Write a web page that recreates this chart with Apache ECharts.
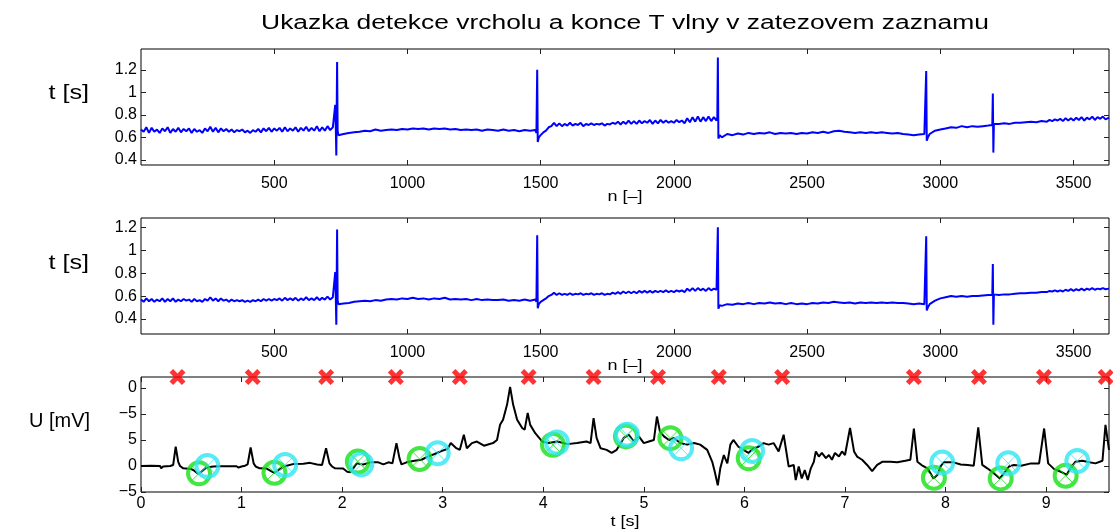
<!DOCTYPE html>
<html><head><meta charset="utf-8">
<script src="https://cdn.jsdelivr.net/npm/echarts@6/dist/echarts.min.js"></script>
<style>html,body{margin:0;padding:0;background:#fff}#c{width:1113px;height:532px}</style>
</head><body><div id="c"></div>
<script>
const titleText = 'Ukazka detekce vrcholu a konce T vlny v zatezovem zaznamu';
const nTicks = [500, 1000, 1500, 2000, 2500, 3000, 3500];
const tTicks = [0.4, 0.6, 0.8, 1, 1.2];
const sTicks = [0, 1, 2, 3, 4, 5, 6, 7, 8, 9];
const uTickValues = [-5, 0, 5, 10, 15];
const uTickLabels = ['−5', '0', '5', '−5', '0'];

// panel 1: [n, t]
const trace1 = [
[0,.67],[10,.65],[20,.69],[30,.64],[40,.685],[50,.65],[60,.67],[70,.64],[80,.68],[90,.655],[100,.69],[110,.64],[120,.675],[130,.65],[140,.685],[150,.645],[160,.675],[170,.655],[180,.68],[190,.64],
[200,.675],[210,.65],[220,.665],[230,.64],[240,.68],[250,.655],[260,.695],[270,.65],[280,.685],[290,.645],[300,.68],[310,.655],[320,.675],[330,.65],[340,.67],[350,.645],[360,.665],[370,.655],[380,.67],[390,.645],
[400,.66],[410,.64],[420,.665],[430,.65],[440,.675],[450,.645],[460,.68],[470,.655],[480,.685],[490,.65],[500,.68],[510,.66],[520,.685],[530,.65],[540,.69],[550,.655],[560,.68],[570,.66],[580,.69],[590,.65],
[600,.685],[610,.66],[620,.695],[630,.655],[640,.685],[650,.66],[660,.70],[670,.655],[680,.69],[690,.66],[700,.70],[710,.665],[720,.69],
[726,0.68],[729,0.89],[731,0.70],[733,0.44],[736,1.27],[738,0.66],[741,0.62],
[760,0.63],[780,0.64],[800,0.645],[820,0.65],[840,0.66],[860,0.655],[880,0.67],[900,0.66],[920,0.665],[940,0.67],
[960,0.665],[980,0.675],[1000,0.67],[1020,0.68],[1040,0.675],[1060,0.68],[1080,0.67],[1100,0.68],[1120,0.675],[1140,0.68],
[1160,0.67],[1180,0.675],[1200,0.665],[1220,0.67],[1240,0.665],[1260,0.67],[1280,0.66],[1300,0.67],[1320,0.665],[1340,0.66],
[1360,0.67],[1380,0.66],[1400,0.665],[1420,0.655],[1440,0.665],[1460,0.66],[1480,0.665],
[1484,0.64],[1487,1.20],[1489,0.56],[1493,0.60],
[1500,.62],[1510,.645],[1520,.66],[1530,.69],[1540,.70],[1550,.73],[1560,.70],[1570,.725],[1580,.70],[1590,.72],[1600,.705],[1610,.73],[1620,.705],[1630,.72],[1640,.71],[1650,.73],[1660,.70],[1670,.72],[1680,.71],[1690,.725],
[1700,.71],[1710,.72],[1720,.715],[1730,.725],[1740,.705],[1750,.72],[1760,.715],[1770,.73],[1780,.72],[1790,.74],[1800,.715],[1810,.74],[1820,.72],[1830,.75],[1840,.72],[1850,.745],[1860,.72],[1870,.75],[1880,.725],[1890,.745],
[1900,.73],[1910,.755],[1920,.72],[1930,.75],[1940,.725],[1950,.755],[1960,.73],[1970,.75],[1980,.73],[1990,.745],[2000,.73],[2010,.755],[2020,.735],[2030,.75],[2040,.725],[2050,.77],[2060,.735],[2070,.78],[2080,.74],[2090,.785],
[2100,.74],[2110,.78],[2120,.745],[2130,.785],[2140,.745],[2150,.78],[2160,.75],
[2163,0.78],[2165,1.31],[2167,0.59],[2172,0.62],
[2180,0.60],[2200,0.63],[2220,0.62],[2240,0.635],[2260,0.625],[2280,0.64],[2300,0.63],[2320,0.64],[2340,0.635],[2360,0.645],
[2380,0.63],[2400,0.64],[2420,0.635],[2440,0.64],[2460,0.63],[2480,0.64],[2500,0.635],[2520,0.645],[2540,0.64],[2560,0.65],
[2580,0.64],[2600,0.655],[2620,0.66],[2640,0.65],[2660,0.645],[2680,0.64],[2700,0.645],[2720,0.64],[2740,0.645],[2760,0.64],
[2780,0.645],[2800,0.64],[2820,0.635],[2840,0.64],[2860,0.63],[2880,0.625],[2900,0.62],[2920,0.625],[2940,0.63],
[2944,0.62],[2947,1.19],[2949,0.57],[2953,0.60],
[2960,0.63],[2980,0.66],[3000,0.67],[3020,0.68],[3040,0.69],[3060,0.685],[3080,0.70],[3100,0.69],[3120,0.70],[3140,0.695],
[3160,0.70],[3180,0.705],[3195,0.71],
[3197,0.99],[3199,0.465],[3201,0.72],
[3220,0.72],[3240,0.725],[3260,0.72],[3280,0.73],[3300,0.73],[3320,0.735],[3340,0.74],[3360,0.735],[3380,0.745],
[3400,.74],[3410,.755],[3420,.745],[3430,.76],[3440,.75],[3450,.765],[3460,.745],[3470,.77],[3480,.75],[3490,.77],[3500,.75],[3510,.775],[3520,.755],[3530,.78],[3540,.75],[3550,.775],[3560,.76],[3570,.785],[3580,.755],[3590,.78],
[3600,.765],[3610,.785],[3620,.76],[3633,.775]
];

// panel 2: [n, t]
const trace2 = [
[0,.57],[10,.55],[20,.58],[30,.555],[40,.575],[50,.55],[60,.57],[70,.555],[80,.58],[90,.55],[100,.575],[110,.555],[120,.58],[130,.55],[140,.57],[150,.555],[160,.575],[170,.56],[180,.57],[190,.55],
[200,.575],[210,.555],[220,.565],[230,.55],[240,.575],[250,.56],[260,.59],[270,.56],[280,.58],[290,.555],[300,.58],[310,.56],[320,.57],[330,.55],[340,.57],[350,.555],[360,.565],[370,.555],[380,.565],[390,.55],
[400,.56],[410,.55],[420,.565],[430,.555],[440,.57],[450,.555],[460,.575],[470,.56],[480,.575],[490,.56],[500,.575],[510,.565],[520,.58],[530,.56],[540,.585],[550,.565],[560,.58],[570,.565],[580,.585],[590,.56],
[600,.58],[610,.565],[620,.59],[630,.565],[640,.58],[650,.565],[660,.59],[670,.565],[680,.585],[690,.57],[700,.595],[710,.57],[720,.59],
[726,0.59],[729,0.81],[731,0.60],[733,0.35],[736,1.18],[738,0.56],[741,0.53],
[760,0.535],[780,0.54],[800,0.55],[820,0.555],[840,0.56],[860,0.555],[880,0.565],[900,0.56],[920,0.57],[940,0.575],
[960,0.57],[980,0.58],[1000,0.575],[1020,0.585],[1040,0.575],[1060,0.58],[1080,0.57],[1100,0.58],[1120,0.575],[1140,0.585],
[1160,0.57],[1180,0.575],[1200,0.57],[1220,0.575],[1240,0.565],[1260,0.575],[1280,0.565],[1300,0.57],[1320,0.565],[1340,0.565],
[1360,0.57],[1380,0.56],[1400,0.565],[1420,0.56],[1440,0.57],[1460,0.56],[1480,0.57],
[1484,0.55],[1487,1.13],[1489,0.495],[1493,0.53],
[1500,.55],[1510,.565],[1520,.58],[1530,.6],[1540,.61],[1550,.63],[1560,.61],[1570,.625],[1580,.61],[1590,.62],[1600,.61],[1610,.625],[1620,.61],[1630,.62],[1640,.615],[1650,.625],[1660,.61],[1670,.62],[1680,.615],[1690,.625],
[1700,.61],[1710,.62],[1720,.615],[1730,.625],[1740,.61],[1750,.62],[1760,.615],[1770,.63],[1780,.62],[1790,.635],[1800,.62],[1810,.64],[1820,.625],[1830,.64],[1840,.625],[1850,.64],[1860,.625],[1870,.645],[1880,.63],[1890,.645],
[1900,.63],[1910,.645],[1920,.63],[1930,.645],[1940,.635],[1950,.645],[1960,.635],[1970,.65],[1980,.635],[1990,.645],[2000,.635],[2010,.65],[2020,.64],[2030,.65],[2040,.635],[2050,.665],[2060,.645],[2070,.67],[2080,.645],[2090,.67],
[2100,.65],[2110,.665],[2120,.645],[2130,.67],[2140,.65],[2150,.665],[2160,.655],
[2163,0.67],[2165,1.20],[2167,0.49],[2172,0.52],
[2180,0.515],[2200,0.53],[2220,0.525],[2240,0.535],[2260,0.53],[2280,0.54],[2300,0.53],[2320,0.54],[2340,0.535],[2360,0.545],
[2380,0.535],[2400,0.54],[2420,0.53],[2440,0.54],[2460,0.53],[2480,0.535],[2500,0.53],[2520,0.54],[2540,0.535],[2560,0.545],
[2580,0.54],[2600,0.55],[2620,0.545],[2640,0.54],[2660,0.545],[2680,0.535],[2700,0.545],[2720,0.54],[2740,0.545],[2760,0.54],
[2780,0.545],[2800,0.54],[2820,0.545],[2840,0.54],[2860,0.54],[2880,0.535],[2900,0.53],[2920,0.535],[2940,0.53],
[2944,0.52],[2947,1.12],[2949,0.475],[2953,0.50],
[2960,0.53],[2980,0.56],[3000,0.58],[3020,0.59],[3040,0.60],[3060,0.595],[3080,0.60],[3100,0.595],[3120,0.60],[3140,0.60],
[3160,0.605],[3180,0.61],[3195,0.61],
[3197,0.88],[3199,0.35],[3201,0.615],
[3220,0.61],[3240,0.615],[3260,0.615],[3280,0.62],[3300,0.625],[3320,0.625],[3340,0.63],[3360,0.63],[3380,0.635],
[3400,.635],[3410,.645],[3420,.64],[3430,.65],[3440,.64],[3450,.65],[3460,.64],[3470,.655],[3480,.645],[3490,.66],[3500,.645],[3510,.66],[3520,.65],[3530,.665],[3540,.65],[3550,.665],[3560,.655],[3570,.67],[3580,.655],[3590,.665],
[3600,.66],[3610,.67],[3620,.66],[3633,.665]
];

// panel 3: ECG [t s, U mV]
const ecg = [
[0,0],[0.1,0.05],[0.19,0],[0.2,-0.45],[0.22,-0.1],[0.29,0],[0.32,0.2],[0.345,3.7],[0.37,0.8],[0.388,0],
[0.42,-0.45],[0.5,-0.6],[0.53,-0.9],[0.57,-1.55],[0.6,-1.1],[0.65,-0.3],[0.72,-0.1],[0.785,-0.05],[0.95,-0.05],[0.97,-0.3],
[1.0,-0.1],[1.035,0.05],[1.06,0.3],[1.09,3.55],[1.12,0.5],[1.14,-0.1],[1.18,-0.45],[1.25,-0.5],[1.32,-1.3],[1.37,-0.8],
[1.42,-0.1],[1.52,0.4],[1.615,0.45],[1.68,0.6],[1.75,0.3],[1.8,0.2],[1.84,3.4],[1.874,0.5],[1.9,-0.1],[1.93,-0.45],
[2.01,-0.5],[2.05,-1.1],[2.08,-1.2],[2.11,-0.45],[2.145,0.5],[2.21,0.3],[2.28,0.7],[2.36,0.7],[2.41,0.3],[2.46,0.7],
[2.5,0.5],[2.54,4.4],[2.57,1.5],[2.59,0.3],[2.64,0.7],[2.72,1.0],[2.79,1.2],[2.85,1.8],[2.92,2.3],[2.98,2.8],
[3.05,3.3],[3.08,4.4],[3.13,3.5],[3.17,3.1],[3.21,6.0],[3.24,3.4],[3.29,4.4],[3.34,4.7],[3.41,3.9],[3.5,4.4],
[3.54,5.0],[3.57,7.9],[3.6,8.9],[3.64,11.8],[3.67,15.2],[3.7,11.8],[3.74,8.9],[3.79,7.3],[3.815,7.0],[3.845,10.2],
[3.87,7.9],[3.92,6.3],[3.99,4.7],[4.05,4.4],[4.14,4.7],[4.24,4.2],[4.335,4.4],[4.43,4.7],[4.47,4.4],[4.5,9.2],
[4.53,5.4],[4.57,3.4],[4.63,3.1],[4.68,2.5],[4.73,3.1],[4.8,5.4],[4.85,6.0],[4.9,4.7],[4.95,5.7],[5.0,4.4],
[5.05,4.7],[5.1,5.0],[5.13,9.5],[5.16,6.6],[5.2,5.7],[5.25,5.0],[5.3,5.4],[5.36,4.4],[5.43,4.1],[5.5,4.4],
[5.56,4.1],[5.63,3.1],[5.68,0.8],[5.705,-1.1],[5.735,-3.7],[5.76,-0.45],[5.795,2.1],[5.83,0.5],[5.86,4.1],[5.89,5.0],
[5.94,3.7],[5.99,3.1],[6.04,2.5],[6.09,3.4],[6.14,3.7],[6.19,4.4],[6.24,4.1],[6.29,4.4],[6.34,2.8],[6.39,6.0],
[6.44,-0.1],[6.49,0.2],[6.51,-2.7],[6.54,-0.1],[6.57,-2.4],[6.6,-0.8],[6.63,-2.7],[6.66,-0.45],[6.69,0.8],[6.71,2.8],
[6.74,1.8],[6.77,2.5],[6.81,1.5],[6.84,2.1],[6.87,1.2],[6.9,2.5],[6.94,1.8],[6.97,2.8],[7.0,2.1],[7.05,7.3],
[7.09,2.8],[7.12,1.8],[7.17,1.2],[7.22,0.2],[7.27,-1.0],[7.32,0.2],[7.37,0.8],[7.45,0.8],[7.52,0.7],[7.6,1.0],
[7.65,1.2],[7.685,7.2],[7.72,0.8],[7.77,0.06],[7.82,-0.45],[7.85,-1.4],[7.88,-2.4],[7.92,-1.7],[7.95,-0.1],[7.98,0.7],
[8.08,0.7],[8.15,0.3],[8.22,0.2],[8.28,0.06],[8.325,7.4],[8.365,0.2],[8.415,-0.45],[8.48,-1.4],[8.54,-2.4],[8.58,-1.4],
[8.63,-0.1],[8.68,0.2],[8.75,0.06],[8.85,0.5],[8.93,0.5],[8.98,7.2],[9.02,0.5],[9.08,-0.6],[9.145,-1.1],[9.205,-1.7],
[9.24,-0.45],[9.29,0.8],[9.36,1.0],[9.43,0.7],[9.49,0.5],[9.56,1.0],[9.59,7.9],[9.625,3.1]
];

const rPeakTimes = [0.363, 1.111, 1.841, 2.534, 3.17, 3.854, 4.5, 5.141, 5.745, 6.375, 7.685, 8.332, 8.978, 9.592];
const tPeakPts = [[0.577,-1.42],[1.327,-1.29],[2.156,0.84],[2.77,1.35],[4.096,4.06],[4.822,5.68],[5.264,5.35],[6.043,1.48],[7.884,-2.26],[8.548,-2.39],[9.194,-1.87]];
const tEndPts = [[0.66,0],[1.433,0.2],[2.19,0.32],[2.95,2.45],[4.136,4.5],[4.832,6.0],[5.37,3.4],[6.076,2.9],[7.967,0.65],[8.624,0.52],[9.31,0.97]];

const nRange = [0, 3633];
const t1Range = [0.355, 1.385];
const t2Range = [0.27, 1.28];
const sRange = [0, 9.625];
const uRange = [-5, 17.1];

const FONT = '"Liberation Sans", Arial, Helvetica, sans-serif';
const grids = [
  {left: 141, right: 4, top: 49, height: 116, show: true, borderColor: '#000', borderWidth: 1},
  {left: 141, right: 4, top: 218, height: 116, show: true, borderColor: '#000', borderWidth: 1},
  {left: 141, right: 4, top: 377, height: 115, show: true, borderColor: '#000', borderWidth: 1}
];
function xAx(gi, r, ticks, pos, showLabel, margin) {
  return {type: 'value', gridIndex: gi, min: r[0], max: r[1], position: pos,
    axisLine: {show: false, onZero: false}, splitLine: {show: false},
    axisTick: {show: true, inside: true, length: 5, customValues: ticks, lineStyle: {color: '#222', width: 1}},
    axisLabel: {show: showLabel, customValues: ticks, margin: margin, color: '#000', fontSize: 16, fontFamily: FONT,
      formatter: v => String(v)}};
}
function yAx(gi, r, ticks, pos, showLabel, fmt) {
  return {type: 'value', gridIndex: gi, min: r[0], max: r[1], position: pos,
    axisLine: {show: false, onZero: false}, splitLine: {show: false},
    axisTick: {show: true, inside: true, length: 5, customValues: ticks, lineStyle: {color: '#222', width: 1}},
    axisLabel: {show: showLabel, customValues: ticks, margin: 4, color: '#000', fontSize: 16, fontFamily: FONT,
      formatter: fmt || (v => String(v))}};
}
const uFmt = v => { const i = uTickValues.indexOf(v); return i >= 0 ? uTickLabels[i] : ''; };

const xSym = 'path://M0,0 L10,10 M10,0 L0,10';
const boldX = 'path://M0,4.5 L4.5,0 L10,5.5 L15.5,0 L20,4.5 L14.5,10 L20,15.5 L15.5,20 L10,14.5 L4.5,20 L0,15.5 L5.5,10 Z';
const green = '#14e014', cyan = '#2ee6f2';

const chart = echarts.init(document.getElementById('c'), null, {renderer: 'canvas'});
chart.setOption({
  animation: false,
  backgroundColor: '#fff',
  grid: grids,
  xAxis: [
    xAx(0, nRange, nTicks, 'bottom', true, 11), xAx(0, nRange, nTicks, 'top', false, 6),
    xAx(1, nRange, nTicks, 'bottom', true, 11), xAx(1, nRange, nTicks, 'top', false, 6),
    xAx(2, sRange, sTicks, 'bottom', true, 4), xAx(2, sRange, sTicks, 'top', false, 6)
  ],
  yAxis: [
    yAx(0, t1Range, tTicks, 'left', true), yAx(0, t1Range, tTicks, 'right', false),
    yAx(1, t2Range, tTicks, 'left', true), yAx(1, t2Range, tTicks, 'right', false),
    yAx(2, uRange, uTickValues, 'left', true, uFmt), yAx(2, uRange, uTickValues, 'right', false)
  ],
  series: [
    {type: 'line', xAxisIndex: 0, yAxisIndex: 0, data: trace1, showSymbol: false, symbol: 'none',
      lineStyle: {color: '#0000ff', width: 2}, z: 2},
    {type: 'line', xAxisIndex: 2, yAxisIndex: 2, data: trace2, showSymbol: false, symbol: 'none',
      lineStyle: {color: '#0000ff', width: 2}, z: 2},
    {type: 'line', xAxisIndex: 4, yAxisIndex: 4, data: ecg, showSymbol: false, symbol: 'none',
      lineStyle: {color: '#000', width: 2}, z: 2},
    {type: 'scatter', xAxisIndex: 4, yAxisIndex: 4, data: tPeakPts, symbol: 'circle', symbolSize: 22,
      itemStyle: {color: 'rgba(0,0,0,0)', borderColor: green, borderWidth: 4}, z: 3, clip: false},
    {type: 'scatter', xAxisIndex: 4, yAxisIndex: 4, data: tPeakPts, symbol: xSym, symbolSize: 15,
      itemStyle: {color: 'rgba(0,0,0,0)', borderColor: green, borderWidth: 1}, z: 3, clip: false},
    {type: 'scatter', xAxisIndex: 4, yAxisIndex: 4, data: tEndPts, symbol: 'circle', symbolSize: 22,
      itemStyle: {color: 'rgba(0,0,0,0)', borderColor: cyan, borderWidth: 4}, z: 4, clip: false},
    {type: 'scatter', xAxisIndex: 4, yAxisIndex: 4, data: tEndPts, symbol: xSym, symbolSize: 15,
      itemStyle: {color: 'rgba(0,0,0,0)', borderColor: cyan, borderWidth: 1}, z: 4, clip: false},
    {type: 'scatter', xAxisIndex: 4, yAxisIndex: 4, data: rPeakTimes.map(t => [t, uRange[1]]), symbol: boldX, symbolSize: 16,
      itemStyle: {color: '#ff0000'}, z: 5, clip: false}
  ],
  graphic: [
    {type: 'text', x: 625, y: 23, scaleX: 1.32, style: {text: titleText, font: '20px ' + FONT, fill: '#000', textAlign: 'center', textVerticalAlign: 'middle'}},
    {type: 'text', x: 89, y: 93, scaleX: 1.2, style: {text: 't [s]', font: '21px ' + FONT, fill: '#000', textAlign: 'right', textVerticalAlign: 'middle'}},
    {type: 'text', x: 89, y: 263, scaleX: 1.2, style: {text: 't [s]', font: '21px ' + FONT, fill: '#000', textAlign: 'right', textVerticalAlign: 'middle'}},
    {type: 'text', x: 90, y: 421, scaleX: 0.95, style: {text: 'U [mV]', font: '21px ' + FONT, fill: '#000', textAlign: 'right', textVerticalAlign: 'middle'}},
    {type: 'text', x: 625, y: 197, scaleX: 1.2, style: {text: 'n [–]', font: '15px ' + FONT, fill: '#000', textAlign: 'center', textVerticalAlign: 'middle'}},
    {type: 'text', x: 625, y: 366, scaleX: 1.2, style: {text: 'n [–]', font: '15px ' + FONT, fill: '#000', textAlign: 'center', textVerticalAlign: 'middle'}},
    {type: 'text', x: 625, y: 522, scaleX: 1.2, style: {text: 't [s]', font: '15px ' + FONT, fill: '#000', textAlign: 'center', textVerticalAlign: 'middle'}}
  ]
});
</script>
</body></html>
